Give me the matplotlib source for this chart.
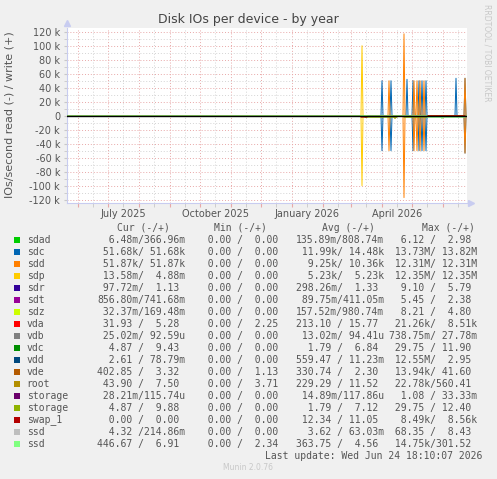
import matplotlib
matplotlib.use("Agg")
import matplotlib.pyplot as plt
import matplotlib.dates as mdates
from matplotlib.patches import Rectangle
from matplotlib.ticker import FixedLocator, FuncFormatter, NullFormatter
import numpy as np
import pandas as pd

W, H = 497, 479

# time span of the yearly graph (400 days, one point per day)
start = pd.Timestamp("2025-05-20 18:10")
end = pd.Timestamp("2026-06-24 18:10")
days = pd.date_range(start, end, freq="D")

# spikes, values in k IOs/second
sdc_dates = ["2026-03-31", "2026-04-09", "2026-04-25", "2026-05-01", "2026-05-07",
             "2026-05-10", "2026-05-14", "2026-06-13", "2026-06-22"]
sdc_read = [50, 50, 0, 50, 50, 50, 50, 0, 53.5]
sdc_write = [50, 50, 52, 50, 50, 50, 50, 53.5, 53.5]

sdd_dates = ["2026-04-07", "2026-04-22", "2026-05-02", "2026-05-05", "2026-05-08",
             "2026-05-12", "2026-06-22"]
sdd_read = [50, 117, 50, 50, 50, 50, 53.5]
sdd_write = [50, 117, 50, 50, 50, 50, 53.5]

sdp_dates = ["2026-03-11"]
sdp_read = [100]
sdp_write = [100]

# small read levels just under the zero line
swap_runs = [("2026-03-10", "2026-03-16", 2.0)]
storage_runs = [("2026-03-14", "2026-04-15", 2.2), ("2026-04-22", "2026-05-15", 2.2)]
root_dates = ["2026-04-12", "2026-04-13", "2026-04-14"]
root_read = [2.2, 4.0, 2.2]
ssd_runs = [("2026-05-16", "2026-06-22", 2.2)]
ssd_dates = ["2026-05-30"]
ssd_read = [4.0]

# legend table
names = ["sdad", "sdc", "sdd", "sdp", "sdr", "sdt", "sdz", "vda", "vdb", "vdc",
         "vdd", "vde", "root", "storage", "storage", "swap_1", "ssd", "ssd"]
colors = ["#00CC00", "#0066B3", "#FF8000", "#FFCC00", "#330099", "#990099", "#CCFF00",
          "#FF0000", "#808080", "#008F00", "#00487D", "#B35A00", "#B38F00", "#6B006B",
          "#8FB300", "#B30000", "#BEBEBE", "#80FF80"]
cur = ["6.48m/366.96m", "51.68k/ 51.68k", "51.87k/ 51.87k", "13.58m/  4.88m",
       "97.72m/  1.13 ", "856.80m/741.68m", "32.37m/169.48m", "31.93 /  5.28 ",
       "25.02m/ 92.59u", "4.87 /  9.43 ", "2.61 / 78.79m", "402.85 /  3.32 ",
       "43.90 /  7.50 ", "28.21m/115.74u", "4.87 /  9.88 ", "0.00 /  0.00 ",
       "4.32 /214.86m", "446.67 /  6.91 "]
mins = ["0.00 /  0.00 "] * 7 + ["0.00 /  2.25 "] + ["0.00 /  0.00 "] * 3 + \
       ["0.00 /  1.13 ", "0.00 /  3.71 "] + ["0.00 /  0.00 "] * 4 + ["0.00 /  2.34 "]
avg = ["135.89m/808.74m", "11.99k/ 14.48k", "9.25k/ 10.36k", "5.23k/  5.23k",
       "298.26m/  1.33 ", "89.75m/411.05m", "157.52m/980.74m", "213.10 / 15.77 ",
       "13.02m/ 94.41u", "1.79 /  6.84 ", "559.47 / 11.23m", "330.74 /  2.30 ",
       "229.29 / 11.52 ", "14.89m/117.86u", "1.79 /  7.12 ", "12.34 / 11.05 ",
       "3.62 / 63.03m", "363.75 /  4.56 "]
maxs = ["6.12 /  2.98 ", "13.73M/ 13.82M", "12.31M/ 12.31M", "12.35M/ 12.35M",
        "9.10 /  5.79 ", "5.45 /  2.38 ", "8.21 /  4.80 ", "21.26k/  8.51k",
        "738.75m/ 27.78m", "29.75 / 11.90 ", "12.55M/  2.95 ", "13.94k/ 41.60 ",
        "22.78k/560.41 ", "1.08 / 33.33m", "29.75 / 12.40 ", "8.49k/  8.56k",
        "68.35 /  8.43 ", "14.75k/301.52 "]


def day_index(d):
    return (pd.to_datetime(d) - start.normalize()).days


def spikes(dates, values):
    s = np.zeros(len(days))
    s[np.asarray(day_index(dates))] = values
    return s


def runs(s, segs):
    for a, b, v in segs:
        s[day_index(a):day_index(b) + 1] = v
    return s


reads = {i: np.zeros(len(days)) for i in range(len(names))}
writes = {i: np.zeros(len(days)) for i in range(len(names))}
reads[1], writes[1] = spikes(sdc_dates, sdc_read), spikes(sdc_dates, sdc_write)
reads[2], writes[2] = spikes(sdd_dates, sdd_read), spikes(sdd_dates, sdd_write)
reads[3], writes[3] = spikes(sdp_dates, sdp_read), spikes(sdp_dates, sdp_write)
reads[12] = spikes(root_dates, root_read)
reads[14] = runs(np.zeros(len(days)), storage_runs)
reads[15] = runs(np.zeros(len(days)), swap_runs)
reads[17] = runs(np.zeros(len(days)), ssd_runs)
reads[17][day_index(ssd_dates)] = ssd_read

fig = plt.figure(figsize=(W / 100, H / 100), dpi=100, facecolor="#F0F0F0")
ax = fig.add_axes([67 / W, 1 - 203 / H, 400 / W, 175 / H])
ax.set_facecolor("white")

x = days.to_pydatetime()
for i in range(len(names)):
    if reads[i].any():
        ax.plot(x, -reads[i], color=colors[i], lw=0.7, zorder=3)
    if writes[i].any():
        ax.plot(x, writes[i], color=colors[i], lw=0.7, zorder=3)
ax.axhline(0, color="black", lw=1.0, zorder=4)

ax.set_xlim(start.to_pydatetime(), end.to_pydatetime())
ax.set_ylim(-124.7, 125.3)

# grid: red dotted major, grey dotted minor
ax.xaxis.set_major_locator(mdates.MonthLocator())
ax.xaxis.set_major_formatter(NullFormatter())
ax.xaxis.set_minor_locator(mdates.MonthLocator(bymonthday=16))
ax.xaxis.set_minor_formatter(FuncFormatter(
    lambda v, p: mdates.num2date(v).strftime("%B %Y") if mdates.num2date(v).month in (1, 4, 7, 10) else ""))
yt = [-120, -100, -80, -60, -40, -20, 0, 20, 40, 60, 80, 100, 120]
ax.yaxis.set_major_locator(FixedLocator(yt))
ax.yaxis.set_major_formatter(FuncFormatter(lambda v, p: "0" if v == 0 else f"{int(v)} k"))
ax.yaxis.set_minor_locator(FixedLocator([v + 10 for v in yt[:-1]]))

ax.grid(which="major", color="#E8A8A8", linestyle=(0, (1, 2)), lw=0.7)
ax.grid(which="minor", color="#D4D4D4", linestyle=(0, (1, 2)), lw=0.7)
ax.set_axisbelow(True)

ax.tick_params(axis="x", which="major", length=3, color="#E8A8A8")
ax.tick_params(axis="x", which="minor", length=3, color="#C8C8C8",
               labelsize=7, labelcolor="#555555", pad=1.5)
ax.tick_params(axis="y", which="both", length=2, color="#C8C8C8",
               labelsize=7, labelcolor="#555555", pad=3)

for side in ("top", "right"):
    ax.spines[side].set_visible(False)
for side in ("left", "bottom"):
    ax.spines[side].set_color("#C8CCF0")
ax.plot([0], [1.03], marker="^", ms=4, color="#C8CCF0", transform=ax.transAxes, clip_on=False)
ax.plot([1.01], [0], marker=">", ms=4, color="#C8CCF0", transform=ax.transAxes, clip_on=False)

fig.text(248.5 / W, 1 - 19 / H, "Disk IOs per device - by year", ha="center", va="center",
         fontsize=9, color="#444444")
fig.text(10 / W, 1 - 115 / H, "IOs/second read (-) / write (+)", rotation=90,
         ha="center", va="center", fontsize=8, color="#555555")
fig.text(487 / W, 1 - 53 / H, "RRDTOOL / TOBI OETIKER", rotation=270, ha="center",
         va="center", fontsize=5.5, color="#C8C8C8")

mono = dict(family="DejaVu Sans Mono", fontsize=7, color="#555555", va="center")
for hx, ht in zip([116.7, 214, 321.7, 422.3], ["Cur (-/+)", "Min (-/+)", "Avg (-/+)", "Max (-/+)"]):
    fig.text(hx / W, 1 - 228 / H, ht, ha="left", **mono)

col_x = [97, 196.5, 296, 389]
for i, name in enumerate(names):
    yy = 239.7 + 12 * i
    fig.add_artist(Rectangle((14 / W, 1 - (yy + 3) / H), 6 / W, 6 / H,
                             transform=fig.transFigure, color=colors[i], lw=0))
    fig.text(26.7 / W, 1 - yy / H, name, ha="left", **mono)
    for cx, val in zip(col_x, [cur[i], mins[i], avg[i], maxs[i]]):
        fig.text(cx / W, 1 - yy / H, f"{val:>15}", ha="left", **mono)

fig.text(482 / W, 1 - 455.7 / H, "Last update: Wed Jun 24 18:10:07 2026", ha="right", **mono)
fig.text(247.7 / W, 1 - 467.7 / H, "Munin 2.0.76", ha="center", va="center",
         fontsize=5.5, color="#C8C8C8")

fig.savefig("out.png", dpi=100, facecolor=fig.get_facecolor())
